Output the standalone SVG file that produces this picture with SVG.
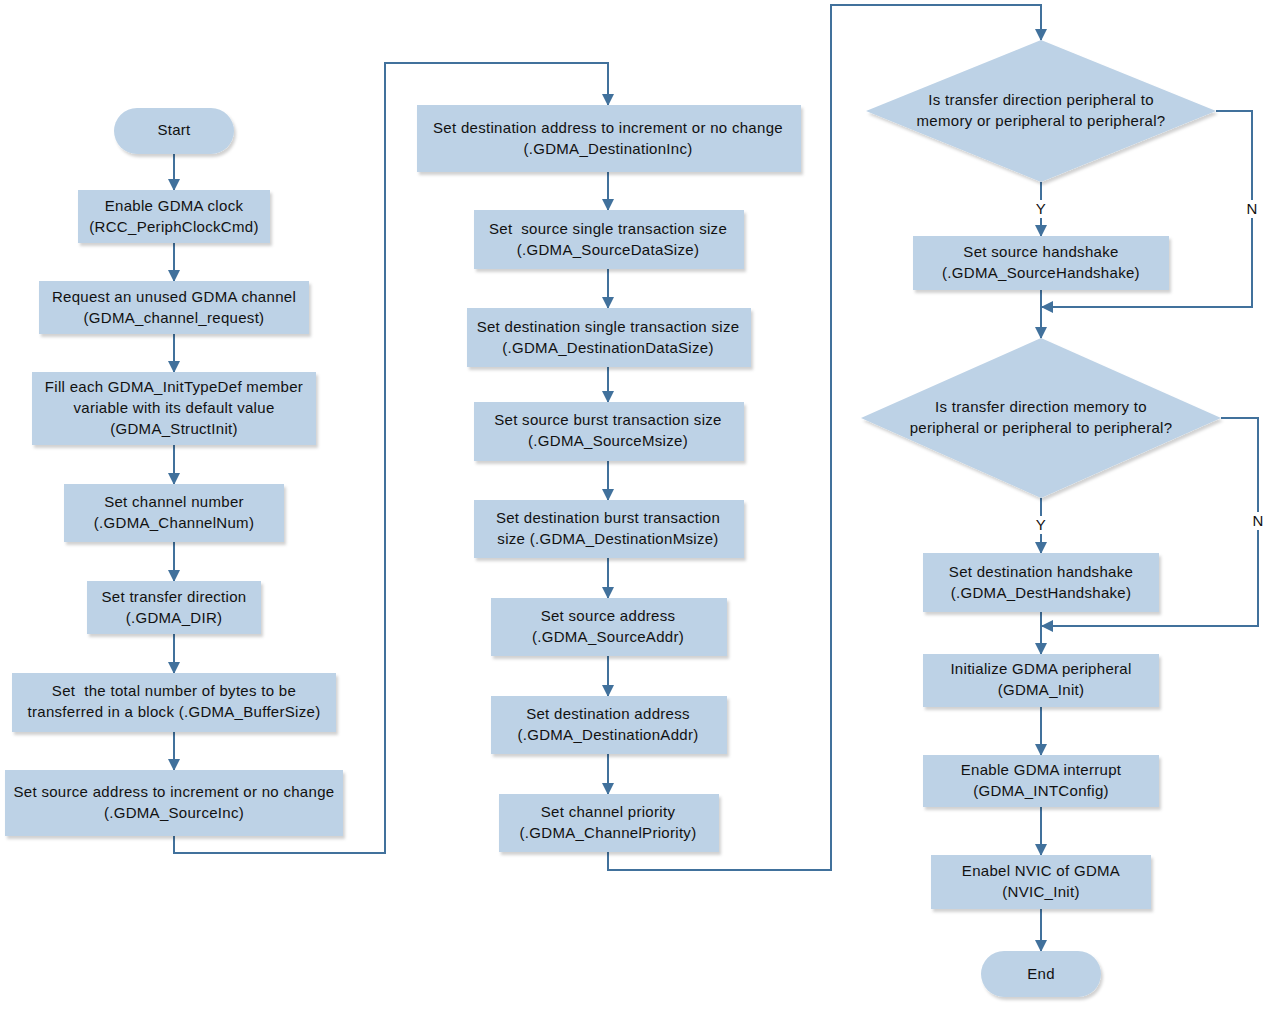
<svg xmlns="http://www.w3.org/2000/svg" width="1273" height="1009" viewBox="0 0 1273 1009">
<style>
.n{fill:#BDD2E6;filter:url(#sh)}
.t{font-family:"Liberation Sans",Arial,sans-serif;font-size:15px;letter-spacing:0.3px;fill:#111;text-anchor:middle;white-space:pre}
.c{fill:none;stroke:#41719C;stroke-width:2}
.lb{fill:#fff}
</style>
<defs>
<filter id="sh" x="-10%" y="-10%" width="130%" height="140%">
<feDropShadow dx="2" dy="3" stdDeviation="1.5" flood-color="#000" flood-opacity="0.18"/>
</filter>
<marker id="a" markerUnits="userSpaceOnUse" markerWidth="12" markerHeight="12" refX="11" refY="6" orient="auto" viewBox="0 0 12 12">
<path d="M0,0 L12,6 L0,12 z" fill="#41719C"/>
</marker>
</defs>
<rect width="1273" height="1009" fill="#fff"/>
<g id="connectors">
<path class="c" marker-end="url(#a)" d="M174,154 V190"/>
<path class="c" marker-end="url(#a)" d="M174,243 V281"/>
<path class="c" marker-end="url(#a)" d="M174,334 V372"/>
<path class="c" marker-end="url(#a)" d="M174,445 V484"/>
<path class="c" marker-end="url(#a)" d="M174,542 V581"/>
<path class="c" marker-end="url(#a)" d="M174,634 V673"/>
<path class="c" marker-end="url(#a)" d="M174,732 V770"/>
<path class="c" marker-end="url(#a)" d="M174,836 V853 H385 V63 H608 V105"/>
<path class="c" marker-end="url(#a)" d="M608,172 V210"/>
<path class="c" marker-end="url(#a)" d="M608,269 V308"/>
<path class="c" marker-end="url(#a)" d="M608,367 V402"/>
<path class="c" marker-end="url(#a)" d="M608,461 V500"/>
<path class="c" marker-end="url(#a)" d="M608,558 V598"/>
<path class="c" marker-end="url(#a)" d="M608,656 V696"/>
<path class="c" marker-end="url(#a)" d="M608,754 V794"/>
<path class="c" marker-end="url(#a)" d="M608,852 V870 H831 V5 H1041 V40"/>
<path class="c" marker-end="url(#a)" d="M1041,182 V236"/>
<path class="c" marker-end="url(#a)" d="M1216,111 H1252 V307 H1042"/>
<path class="c" marker-end="url(#a)" d="M1041,290 V338"/>
<path class="c" marker-end="url(#a)" d="M1041,498 V553"/>
<path class="c" marker-end="url(#a)" d="M1221,418 H1258 V626 H1042"/>
<path class="c" marker-end="url(#a)" d="M1041,612 V654"/>
<path class="c" marker-end="url(#a)" d="M1041,707 V755"/>
<path class="c" marker-end="url(#a)" d="M1041,807 V855"/>
<path class="c" marker-end="url(#a)" d="M1041,909 V951"/>
<rect class="lb" x="1034" y="200" width="14" height="18"/>
<text class="t" x="1041" y="214">Y</text>
<rect class="lb" x="1245" y="200" width="14" height="18"/>
<text class="t" x="1252" y="214">N</text>
<rect class="lb" x="1034" y="516" width="14" height="18"/>
<text class="t" x="1041" y="530">Y</text>
<rect class="lb" x="1251" y="512" width="14" height="18"/>
<text class="t" x="1258" y="526">N</text>
</g>
<g id="start"><rect class="n" x="114" y="108" width="120" height="46" rx="23"/><text class="t" x="174" y="135">Start</text></g>
<g id="n1"><rect class="n" x="78" y="190" width="192" height="53"/><text class="t" x="174" y="211">Enable GDMA clock</text><text class="t" x="174" y="232">(RCC_PeriphClockCmd)</text></g>
<g id="n2"><rect class="n" x="39" y="281" width="270" height="53"/><text class="t" x="174" y="302">Request an unused GDMA channel</text><text class="t" x="174" y="323">(GDMA_channel_request)</text></g>
<g id="n3"><rect class="n" x="32" y="372" width="284" height="73"/><text class="t" x="174" y="392">Fill each GDMA_InitTypeDef member</text><text class="t" x="174" y="413">variable with its default value</text><text class="t" x="174" y="434">(GDMA_StructInit)</text></g>
<g id="n4"><rect class="n" x="64" y="484" width="220" height="58"/><text class="t" x="174" y="507">Set channel number</text><text class="t" x="174" y="528">(.GDMA_ChannelNum)</text></g>
<g id="n5"><rect class="n" x="87" y="581" width="174" height="53"/><text class="t" x="174" y="602">Set transfer direction</text><text class="t" x="174" y="623">(.GDMA_DIR)</text></g>
<g id="n6"><rect class="n" x="12" y="673" width="324" height="59"/><text class="t" x="174" y="696">Set  the total number of bytes to be</text><text class="t" x="174" y="717">transferred in a block (.GDMA_BufferSize)</text></g>
<g id="n7"><rect class="n" x="5" y="770" width="338" height="66"/><text class="t" x="174" y="797">Set source address to increment or no change</text><text class="t" x="174" y="818">(.GDMA_SourceInc)</text></g>
<g id="n8"><rect class="n" x="417" y="105" width="384" height="67"/><text class="t" x="608" y="133">Set destination address to increment or no change</text><text class="t" x="608" y="154">(.GDMA_DestinationInc)</text></g>
<g id="n9"><rect class="n" x="474" y="210" width="270" height="59"/><text class="t" x="608" y="234">Set  source single transaction size</text><text class="t" x="608" y="255">(.GDMA_SourceDataSize)</text></g>
<g id="n10"><rect class="n" x="467" y="308" width="284" height="59"/><text class="t" x="608" y="332">Set destination single transaction size</text><text class="t" x="608" y="353">(.GDMA_DestinationDataSize)</text></g>
<g id="n11"><rect class="n" x="474" y="402" width="270" height="59"/><text class="t" x="608" y="425">Set source burst transaction size</text><text class="t" x="608" y="446">(.GDMA_SourceMsize)</text></g>
<g id="n12"><rect class="n" x="474" y="500" width="270" height="58"/><text class="t" x="608" y="523">Set destination burst transaction</text><text class="t" x="608" y="544">size (.GDMA_DestinationMsize)</text></g>
<g id="n13"><rect class="n" x="491" y="598" width="236" height="58"/><text class="t" x="608" y="621">Set source address</text><text class="t" x="608" y="642">(.GDMA_SourceAddr)</text></g>
<g id="n14"><rect class="n" x="491" y="696" width="236" height="58"/><text class="t" x="608" y="719">Set destination address</text><text class="t" x="608" y="740">(.GDMA_DestinationAddr)</text></g>
<g id="n15"><rect class="n" x="499" y="794" width="220" height="58"/><text class="t" x="608" y="817">Set channel priority</text><text class="t" x="608" y="838">(.GDMA_ChannelPriority)</text></g>
<g id="d1"><polygon class="n" points="1041,40 1216,111 1041,182 866,111"/><text class="t" x="1041" y="105">Is transfer direction peripheral to</text><text class="t" x="1041" y="126">memory or peripheral to peripheral?</text></g>
<g id="n16"><rect class="n" x="913" y="236" width="256" height="54"/><text class="t" x="1041" y="257">Set source handshake</text><text class="t" x="1041" y="278">(.GDMA_SourceHandshake)</text></g>
<g id="d2"><polygon class="n" points="1041,338 1221,418 1041,498 861,418"/><text class="t" x="1041" y="412">Is transfer direction memory to</text><text class="t" x="1041" y="433">peripheral or peripheral to peripheral?</text></g>
<g id="n17"><rect class="n" x="923" y="553" width="236" height="59"/><text class="t" x="1041" y="577">Set destination handshake</text><text class="t" x="1041" y="598">(.GDMA_DestHandshake)</text></g>
<g id="n18"><rect class="n" x="923" y="654" width="236" height="53"/><text class="t" x="1041" y="674">Initialize GDMA peripheral</text><text class="t" x="1041" y="695">(GDMA_Init)</text></g>
<g id="n19"><rect class="n" x="923" y="755" width="236" height="52"/><text class="t" x="1041" y="775">Enable GDMA interrupt</text><text class="t" x="1041" y="796">(GDMA_INTConfig)</text></g>
<g id="n20"><rect class="n" x="931" y="855" width="220" height="54"/><text class="t" x="1041" y="876">Enabel NVIC of GDMA</text><text class="t" x="1041" y="897">(NVIC_Init)</text></g>
<g id="end"><rect class="n" x="981" y="951" width="120" height="46" rx="23"/><text class="t" x="1041" y="979">End</text></g>
</svg>
